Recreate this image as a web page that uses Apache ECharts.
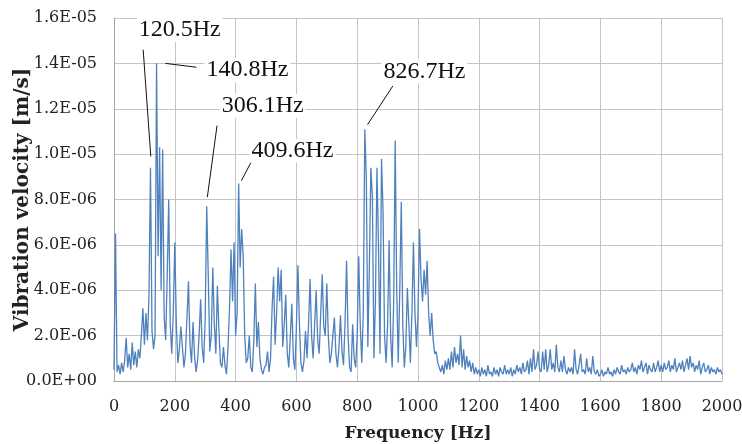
<!DOCTYPE html>
<html>
<head>
<meta charset="utf-8">
<script src="https://cdn.jsdelivr.net/npm/echarts@6/dist/echarts.min.js"></script>
<style>
  html, body { margin: 0; padding: 0; background: #fff; }
  #vib-spectrum { width: 742px; height: 444px; }
</style>
</head>
<body>
<div id="vib-spectrum"></div>
<script>
// spectrum sampled every 5 Hz, values in 1E-06 m/s
const freqStep = 5;
const velocity = [
  0.5, 6.5, 0.4, 0.7, 0.3, 0.8, 0.4, 0.9, 1.9, 0.6, 1.2, 0.5, 1.7, 0.7, 1.3, 0.6, 1.4, 1.0, 2.0, 3.2,
  1.6, 3.0, 1.8, 3.7, 9.4, 2.2, 1.4, 2.0, 14.0, 5.5, 10.3, 4.0, 10.2, 2.8, 1.8, 4.6, 8.0, 2.5, 1.2, 3.0,
  6.1, 2.5, 0.8, 1.4, 2.4, 1.5, 0.6, 1.2, 2.8, 4.4, 1.6, 0.8, 2.6, 1.1, 0.4, 0.9, 2.0, 3.6, 1.5, 0.8,
  2.8, 7.7, 4.7, 1.3, 2.0, 5.0, 2.5, 1.2, 4.2, 2.3, 0.8, 0.6, 1.5, 0.7, 0.3, 1.5, 3.2, 5.8, 3.5, 6.1,
  2.0, 3.0, 8.7, 5.0, 6.7, 5.5, 2.0, 0.8, 1.0, 2.0, 0.6, 0.4, 1.8, 4.3, 1.5, 2.6, 1.0, 0.5, 0.3, 0.6,
  0.7, 1.3, 0.4, 1.0, 3.2, 4.6, 1.6, 3.0, 5.0, 3.5, 4.9, 1.5, 2.5, 3.8, 1.2, 0.6, 2.0, 3.4, 1.0, 0.5,
  2.4, 5.1, 2.5, 0.8, 0.4, 0.9, 2.2, 1.0, 2.5, 4.5, 2.0, 1.0, 2.5, 4.0, 1.8, 1.2, 3.0, 4.7, 2.4, 2.0,
  4.3, 2.0, 0.8, 1.2, 2.0, 2.8, 1.2, 0.6, 1.5, 2.9, 1.3, 0.7, 2.5, 5.3, 2.0, 0.6, 0.4, 2.5, 1.0, 0.6,
  2.0, 5.5, 2.5, 0.8, 3.0, 11.1, 9.0, 1.5, 5.0, 9.4, 8.1, 1.0, 3.5, 9.4, 6.0, 1.2, 9.8, 7.5, 2.0, 0.8,
  2.5, 6.2, 2.0, 0.6, 3.5, 10.6, 4.0, 0.8, 4.0, 7.9, 2.5, 0.6, 1.5, 4.1, 2.5, 0.8, 3.0, 6.1, 3.0, 1.5,
  3.0, 6.7, 4.5, 3.5, 4.9, 3.8, 5.3, 3.0, 2.0, 3.0, 1.8, 1.2, 1.3, 0.8, 0.6, 0.4, 0.7, 0.3, 0.9, 0.5,
  1.0, 0.5, 1.3, 0.6, 1.5, 0.8, 1.2, 0.7, 2.0, 0.6, 1.4, 0.5, 1.1, 0.6, 0.9, 0.4, 0.8, 0.3, 0.6, 0.3,
  0.5, 0.2, 0.6, 0.3, 0.5, 0.2, 0.7, 0.3, 0.4, 0.2, 0.6, 0.3, 0.5, 0.2, 0.6, 0.4, 0.3, 0.7, 0.3, 0.5,
  0.3, 0.6, 0.2, 0.5, 0.3, 0.7, 0.4, 0.6, 0.3, 0.8, 0.4, 0.5, 0.9, 0.3, 1.0, 0.4, 1.4, 0.5, 0.7, 1.3,
  0.5, 0.4, 1.3, 0.5, 1.4, 0.4, 0.7, 1.4, 0.5, 0.8, 0.4, 1.6, 0.6, 0.4, 0.9, 0.4, 1.1, 0.5, 0.3, 0.6,
  0.4, 0.6, 0.3, 1.4, 0.5, 0.3, 0.7, 1.2, 0.4, 0.5, 0.3, 1.0, 0.4, 0.6, 0.3, 1.1, 0.4, 0.3, 0.5, 0.2,
  0.3, 0.5, 0.2, 0.4, 0.3, 0.6, 0.3, 0.4, 0.2, 0.5, 0.3, 0.6, 0.4, 0.3, 0.7, 0.4, 0.5, 0.3, 0.6, 0.4,
  0.5, 0.8, 0.4, 0.6, 0.3, 0.7, 0.5, 0.9, 0.4, 0.6, 0.8, 0.3, 0.7, 0.5, 0.4, 0.8, 0.4, 0.6, 0.9, 0.4,
  0.7, 0.4, 0.8, 0.5, 0.6, 0.9, 0.4, 0.7, 0.5, 1.0, 0.4, 0.6, 0.8, 0.5, 0.9, 0.4, 0.7, 1.0, 0.5, 1.1,
  0.6, 0.8, 0.4, 0.7, 0.5, 0.9, 0.3, 0.6, 0.8, 0.4, 0.5, 0.7, 0.3, 0.6, 0.4, 0.5, 0.3, 0.6, 0.4, 0.5,
  0.3
];
const peakLabels = ['120.5Hz', '140.8Hz', '306.1Hz', '409.6Hz', '826.7Hz'];

const serif = '"Liberation Serif", serif';
const wideSerif = '"DejaVu Serif", serif';

// label anchor and leader line (from, to) for each peak, in axis units
const callouts = [
  { text: [216, 15.47], from: [96, 14.6], to: [121, 9.9] },
  { text: [439, 13.7], from: [169, 14.0], to: [271, 13.83] },
  { text: [489, 12.12], from: [339, 11.26], to: [307, 8.1] },
  { text: [587, 10.15], from: [457, 9.8], to: [419, 8.83] },
  { text: [1021, 13.65], from: [917, 13.0], to: [834, 11.3] }
];

const sciLabel = (v) => (v * 1e-6).toExponential(1).toUpperCase().replace(/E([+-])(\d)$/, 'E$10$2');

const mychart = echarts.init(document.getElementById('vib-spectrum'));
const option = {
  animation: false,
  backgroundColor: '#fff',
  grid: { left: 114, right: 20, top: 18, bottom: 63, containLabel: false, outerBoundsMode: 'none' },
  xAxis: {
    type: 'value',
    min: 0,
    max: 2000,
    interval: 200,
    name: 'Frequency [Hz]',
    nameLocation: 'middle',
    nameGap: 44,
    nameMoveOverlap: false,
    nameTextStyle: { color: '#222', fontFamily: wideSerif, fontSize: 17, fontWeight: 'bold' },
    axisLine: { show: true, lineStyle: { color: '#a6a6a6' } },
    axisTick: { show: false },
    axisLabel: { color: '#222', fontFamily: wideSerif, fontSize: 16, margin: 18, formatter: (v) => String(v) },
    splitLine: { show: true, lineStyle: { color: '#c4c4c4' } }
  },
  yAxis: {
    type: 'value',
    min: 0,
    max: 16,
    interval: 2,
    name: 'Vibration velocity [m/s]',
    nameLocation: 'middle',
    nameGap: 81,
    nameMoveOverlap: false,
    nameTextStyle: { color: '#222', fontFamily: wideSerif, fontSize: 20, fontWeight: 'bold' },
    axisLine: { show: true, lineStyle: { color: '#a6a6a6' } },
    axisTick: { show: false },
    axisLabel: { color: '#222', fontFamily: wideSerif, fontSize: 16, margin: 17, formatter: sciLabel },
    splitLine: { show: true, lineStyle: { color: '#c4c4c4' } }
  },
  series: [
    {
      type: 'line',
      data: velocity.map((v, i) => [i * freqStep, v]),
      showSymbol: false,
      sampling: 'none',
      lineStyle: { color: '#4f81bd', width: 1.3 },
      itemStyle: { color: '#4f81bd' },
      markLine: {
        silent: true,
        symbol: ['none', 'none'],
        label: { show: false },
        lineStyle: { color: '#111', width: 1, type: 'solid' },
        data: callouts.map(c => [{ coord: c.from }, { coord: c.to }])
      },
      markPoint: {
        silent: true,
        symbol: 'rect',
        symbolSize: 1,
        itemStyle: { color: 'rgba(0,0,0,0)' },
        label: {
          show: true,
          position: 'inside',
          formatter: (p) => p.name,
          color: '#111',
          fontFamily: serif,
          fontSize: 24,
          backgroundColor: '#fff',
          padding: [0, 2]
        },
        data: callouts.map((c, i) => ({ name: peakLabels[i], coord: c.text }))
      }
    }
  ]
};
mychart.setOption(option);
</script>
</body>
</html>
